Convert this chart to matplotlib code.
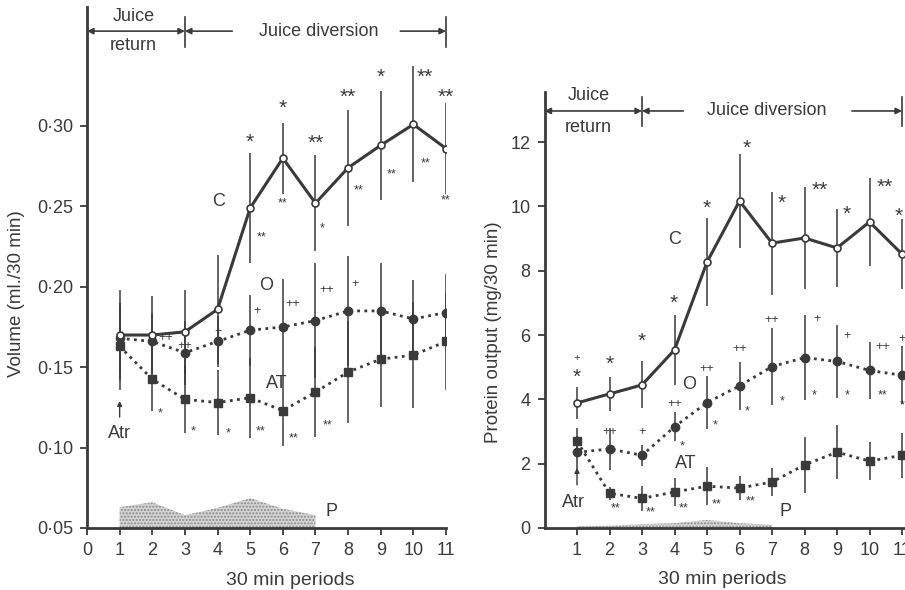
import numpy as np
import matplotlib
matplotlib.use("Agg")
import matplotlib.pyplot as plt

plt.rcParams['font.family'] = ['Liberation Sans', 'DejaVu Sans']

INK = '#3a3a3a'
periods = [1, 2, 3, 4, 5, 6, 7, 8, 9, 10, 11]

# left panel: volume (ml./30 min)
vol_c = [0.170, 0.170, 0.172, 0.186, 0.249, 0.280, 0.252, 0.274, 0.288, 0.301, 0.286]
vol_c_err = [0.028, 0.024, 0.026, 0.034, 0.034, 0.022, 0.030, 0.036, 0.034, 0.036, 0.028]
vol_o = [0.168, 0.166, 0.159, 0.166, 0.173, 0.175, 0.179, 0.185, 0.185, 0.180, 0.184]
vol_o_err = [0.020, 0.018, 0.020, 0.016, 0.022, 0.030, 0.036, 0.034, 0.030, 0.024, 0.024]
vol_at = [0.163, 0.1425, 0.130, 0.128, 0.131, 0.123, 0.1345, 0.147, 0.155, 0.1575, 0.166]
vol_at_err = [0.027, 0.020, 0.021, 0.020, 0.025, 0.022, 0.028, 0.032, 0.030, 0.033, 0.030]
vol_p_x = [1, 2, 3, 4, 5, 6, 7]
vol_p = [0.063, 0.066, 0.058, 0.0625, 0.0686, 0.062, 0.058]
vol_yticks = [0.05, 0.10, 0.15, 0.20, 0.25, 0.30]
vol_yticklabels = ['0·05', '0·10', '0·15', '0·20', '0·25', '0·30']
vol_xticks = [0, 1, 2, 3, 4, 5, 6, 7, 8, 9, 10, 11]

# right panel: protein output (mg/30 min)
prot_c = [3.89, 4.17, 4.45, 5.54, 8.27, 10.17, 8.86, 9.02, 8.71, 9.52, 8.52]
prot_c_err = [0.5, 0.53, 0.73, 1.1, 1.37, 1.46, 1.6, 1.6, 1.21, 1.37, 1.1]
prot_o = [2.35, 2.46, 2.26, 3.15, 3.90, 4.42, 5.02, 5.30, 5.18, 4.90, 4.75]
prot_o_err = [0.5, 0.66, 0.33, 0.45, 0.83, 0.75, 1.2, 1.33, 1.14, 0.88, 0.9]
prot_at = [2.70, 1.08, 0.92, 1.12, 1.30, 1.24, 1.43, 1.96, 2.36, 2.08, 2.26]
prot_at_err = [0.4, 0.2, 0.4, 0.45, 0.6, 0.37, 0.45, 0.87, 0.84, 0.6, 0.7]
prot_p_x = [1, 2, 3, 4, 5, 6, 7]
prot_p = [0.05, 0.07, 0.12, 0.15, 0.25, 0.15, 0.10]
prot_yticks = [0, 2, 4, 6, 8, 10, 12]
prot_xticks = [1, 2, 3, 4, 5, 6, 7, 8, 9, 10, 11]

# significance signs: (x, y, text, size)
vol_signs = [
    (5.0, 0.290, '*', 15), (6.0, 0.311, '*', 15), (7.0, 0.289, '**', 15),
    (8.0, 0.318, '**', 15), (9.0, 0.330, '*', 15), (10.35, 0.330, '**', 15),
    (11.0, 0.318, '**', 15),
    (5.35, 0.231, '**', 9), (6.0, 0.252, '**', 9), (7.22, 0.236, '*', 9),
    (8.33, 0.260, '**', 9), (9.33, 0.270, '**', 9), (10.37, 0.277, '**', 9),
    (11.0, 0.254, '**', 9),
    (2.4, 0.168, '++', 9), (3.0, 0.163, '++', 9), (4.0, 0.172, '+', 9),
    (5.2, 0.185, '+', 9), (6.3, 0.189, '++', 9), (7.35, 0.198, '++', 9),
    (8.2, 0.202, '+', 9),
    (2.25, 0.121, '*', 9), (3.25, 0.110, '*', 9), (4.33, 0.109, '*', 9),
    (5.33, 0.110, '**', 9), (6.33, 0.106, '**', 9), (7.38, 0.114, '**', 9),
]
prot_signs = [
    (1.0, 4.7, '*', 15), (1.0, 5.3, '+', 8), (2.0, 5.1, '*', 15), (3.0, 5.8, '*', 15),
    (3.97, 7.0, '*', 15), (5.0, 9.95, '*', 15), (6.22, 11.8, '*', 15),
    (7.3, 10.1, '*', 15), (8.48, 10.5, '**', 15), (9.3, 9.75, '*', 15),
    (10.47, 10.6, '**', 15), (10.9, 9.7, '*', 15),
    (2.0, 2.98, '++', 9), (3.0, 2.98, '+', 9), (4.0, 3.86, '++', 9),
    (5.0, 4.95, '++', 9), (6.0, 5.56, '++', 9), (7.0, 6.47, '++', 9),
    (8.4, 6.5, '+', 9), (9.3, 5.97, '+', 9), (10.4, 5.63, '++', 9),
    (11.0, 5.88, '+', 9),
    (4.25, 2.55, '*', 9), (5.25, 3.2, '*', 9), (6.23, 3.62, '*', 9),
    (7.3, 3.95, '*', 9), (8.3, 4.12, '*', 9), (9.3, 4.12, '*', 9),
    (10.4, 4.12, '**', 9), (11.0, 3.82, '*', 9),
    (2.2, 0.6, '**', 9), (3.28, 0.48, '**', 9), (4.27, 0.6, '**', 9),
    (5.3, 0.73, '**', 9), (6.33, 0.82, '**', 9),
]


def draw_panel(ax, c, c_err, o, o_err, at, at_err, p_x, p, p_base):
    ax.fill_between(p_x, p_base, p, facecolor='#d4d4d4', edgecolor='#8a8a8a',
                    hatch='.....', linewidth=0, zorder=1)
    for vals, err in ((c, c_err), (o, o_err), (at, at_err)):
        ax.errorbar(periods, vals, yerr=err, fmt='none', ecolor=INK,
                    elinewidth=1.1, capsize=0, zorder=2)
    ax.plot(periods, at, ls=(0, (1, 1.6)), lw=2, color=INK, marker='s',
            ms=5.5, mfc=INK, mec=INK, zorder=3)
    ax.plot(periods, o, ls=(0, (1, 1.6)), lw=2, color=INK, marker='o',
            ms=6, mfc=INK, mec=INK, zorder=3)
    ax.plot(periods, c, ls='-', lw=2.2, color=INK, marker='o', ms=5,
            mfc='white', mec=INK, mew=1.2, zorder=4)
    for side in ('top', 'right'):
        ax.spines[side].set_visible(False)
    for side in ('left', 'bottom'):
        ax.spines[side].set_linewidth(2)
        ax.spines[side].set_color(INK)
    ax.tick_params(direction='out', length=5, width=1.3, colors=INK,
                   labelsize=13, pad=5)
    ax.set_xlabel('30 min periods', fontsize=14, color=INK)


def draw_header(ax, y, y0, y1, x_div0, x_div1, x_jtext, x_dtext, y_juice, y_return):
    ax.annotate('', xy=(0, y), xytext=(3, y), annotation_clip=False,
                arrowprops=dict(arrowstyle='<|-|>', color=INK, lw=1.2,
                                shrinkA=0, shrinkB=0, mutation_scale=9))
    ax.annotate('', xy=(3, y), xytext=(x_div0, y), annotation_clip=False,
                arrowprops=dict(arrowstyle='-|>', color=INK, lw=1.2,
                                shrinkA=0, shrinkB=0, mutation_scale=9))
    ax.annotate('', xy=(11, y), xytext=(x_div1, y), annotation_clip=False,
                arrowprops=dict(arrowstyle='-|>', color=INK, lw=1.2,
                                shrinkA=0, shrinkB=0, mutation_scale=9))
    ax.plot([3, 3], [y0, y1], color=INK, lw=1.2, clip_on=False)
    ax.plot([11, 11], [y0, y1], color=INK, lw=1.2, clip_on=False)
    ax.text(x_jtext, y_juice, 'Juice', ha='center', va='center', fontsize=13, color=INK)
    ax.text(x_jtext, y_return, 'return', ha='center', va='center', fontsize=13, color=INK)
    ax.text(x_dtext, y, 'Juice diversion', ha='center', va='center', fontsize=13,
            color=INK)


fig = plt.figure(figsize=(9.05, 5.9), dpi=100)
fig.patch.set_facecolor('white')

# left panel
ax1 = fig.add_axes([87 / 905, 62 / 590, 359 / 905, 521 / 590])
draw_panel(ax1, vol_c, vol_c_err, vol_o, vol_o_err, vol_at, vol_at_err,
           vol_p_x, vol_p, 0.05)
ax1.set_xlim(0, 11)
ax1.set_ylim(0.05, 0.374)
ax1.set_xticks(vol_xticks)
ax1.set_yticks(vol_yticks)
ax1.set_yticklabels(vol_yticklabels)
ax1.set_ylabel('Volume (ml./30 min)', fontsize=13.5, color=INK)
ax1.yaxis.set_label_coords(-0.172, 0.45)
ax1.xaxis.set_label_coords(0.565, -0.085)
draw_header(ax1, 0.359, 0.368, 0.349, 4.45, 9.6, 1.42, 7.1, 0.368, 0.350)
ax1.text(4.02, 0.253, 'C', fontsize=13, color=INK, ha='center', va='center')
ax1.text(5.5, 0.201, 'O', fontsize=13, color=INK, ha='center', va='center')
ax1.text(5.8, 0.140, 'AT', fontsize=13, color=INK, ha='center', va='center')
ax1.text(1.0, 0.109, 'Atr', fontsize=13, color=INK, ha='center', va='center')
ax1.text(7.5, 0.060, 'P', fontsize=13, color=INK, ha='center', va='center')
ax1.annotate('', xy=(1.0, 0.129), xytext=(1.0, 0.119),
             arrowprops=dict(arrowstyle='-|>', color=INK, lw=1, shrinkA=0,
                             shrinkB=0, mutation_scale=7))
for x, y, s, size in vol_signs:
    ax1.text(x, y, s, fontsize=size, color=INK, ha='center', va='center',
             clip_on=False)

# right panel (cut at the right edge as in the scan)
ax2 = fig.add_axes([544.5 / 905, 62 / 590, 11.5 * 32.5 / 905, 436 / 590])
draw_panel(ax2, prot_c, prot_c_err, prot_o, prot_o_err, prot_at, prot_at_err,
           prot_p_x, prot_p, 0)
ax2.set_xlim(0, 11.5)
ax2.set_ylim(0, 13.56)
ax2.set_xticks(prot_xticks)
ax2.set_yticks(prot_yticks)
ax2.set_ylabel('Protein output (mg/30 min)', fontsize=13.5, color=INK)
ax2.yaxis.set_label_coords(-0.115, 0.45)
ax2.xaxis.set_label_coords(0.475, -0.098)
draw_header(ax2, 12.97, 13.4, 12.5, 4.27, 9.46, 1.35, 6.85, 13.45, 12.45)
ax2.text(4.0, 8.96, 'C', fontsize=13, color=INK, ha='center', va='center')
ax2.text(4.45, 4.45, 'O', fontsize=13, color=INK, ha='center', va='center')
ax2.text(4.33, 2.02, 'AT', fontsize=13, color=INK, ha='center', va='center')
ax2.text(0.88, 0.8, 'Atr', fontsize=13, color=INK, ha='center', va='center')
ax2.text(7.4, 0.5, 'P', fontsize=13, color=INK, ha='center', va='center')
ax2.annotate('', xy=(1.0, 1.87), xytext=(1.0, 1.34),
             arrowprops=dict(arrowstyle='-|>', color=INK, lw=1, shrinkA=0,
                             shrinkB=0, mutation_scale=7))
for x, y, s, size in prot_signs:
    ax2.text(x, y, s, fontsize=size, color=INK, ha='center', va='center',
             clip_on=False)

fig.savefig('out.png', dpi=100)
